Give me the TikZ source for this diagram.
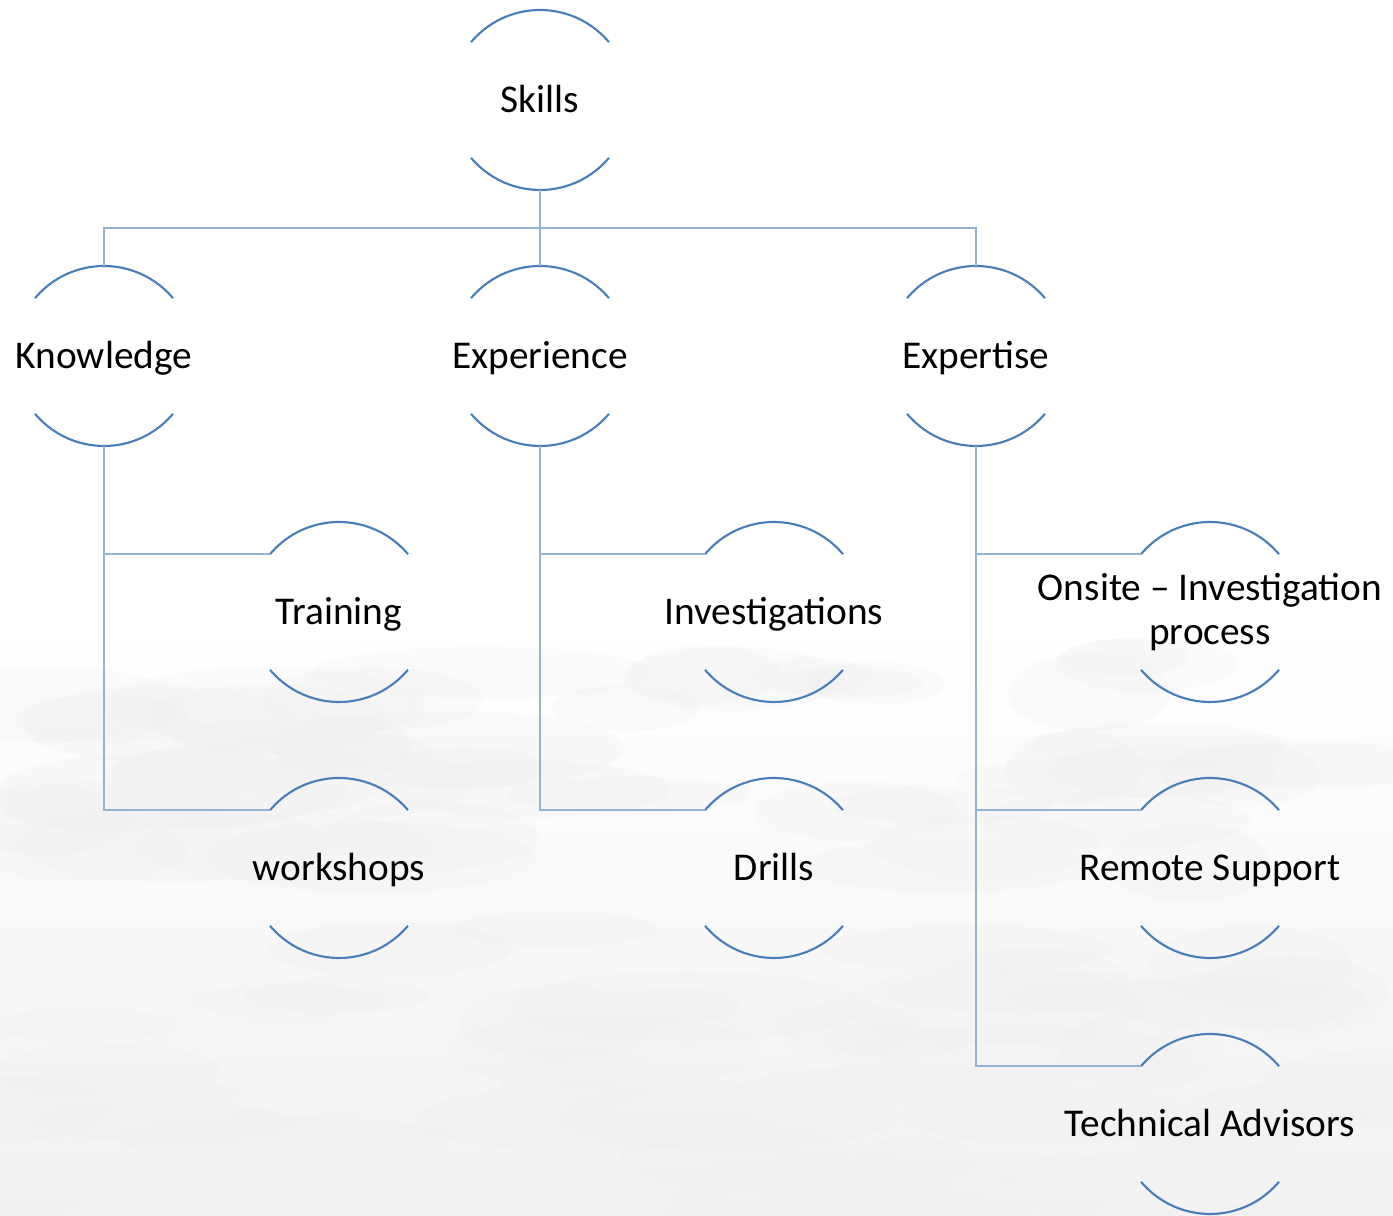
\documentclass[tikz,border=0pt]{standalone}
\usepackage{fontspec}
\setmainfont{Carlito}
\definecolor{arcblue}{HTML}{4A7EBB}
\definecolor{connblue}{HTML}{95B3D7}
\tikzset{
  arcst/.style={draw=arcblue, line width=1.6pt},
  conn/.style={draw=connblue, line width=1.5pt},
  txt/.style={font=\fontsize{29.5}{33}\selectfont, align=center, inner sep=0pt, text=black, anchor=base}
}
\newcommand\bub[4]{%
  \coordinate (#1) at (#2,#3);
  \node[txt] (#1-n) at ([yshift=-9.75pt]#1) {#4};
  \coordinate (#1-tl) at ([shift={(140:67.5pt)}]#1);
  \coordinate (#1-tr) at ([shift={(40:67.5pt)}]#1);
  \coordinate (#1-t) at ([shift={(90:67.5pt)}]#1);
  \coordinate (#1-b) at ([shift={(270:67.5pt)}]#1);
  \coordinate (#1-bl) at ([shift={(220:67.5pt)}]#1);
  \draw[arcst] (#1-tr) arc[start angle=40,end angle=140,radius=67.5pt];
  \draw[arcst] (#1-bl) arc[start angle=220,end angle=320,radius=67.5pt];
}
\begin{document}
\begin{tikzpicture}[x=0.75pt,y=0.75pt]
\useasboundingbox (0,0) rectangle (1393,1216);
\fill[white] (0,0) rectangle (1393,1216);
\shade[top color=white, bottom color=gray!10] (0,0) rectangle (1393,600);
\pgfmathsetseed{7}
\begin{scope}[fill=gray!12, opacity=0.25]
  \foreach \i in {1,...,90}{
    \pgfmathsetmacro\cx{rnd*1393}
    \pgfmathsetmacro\cy{rnd*560}
    \pgfmathsetmacro\rx{60+rnd*120}
    \pgfmathsetmacro\ry{15+rnd*25}
    \fill (\cx,\cy) ellipse (\rx pt*0.75 and \ry pt*0.75);
  }
\end{scope}
\bub{S}{540}{1116}{Skills}
\bub{K}{104}{860}{Knowledge}
\bub{E}{540}{860}{Experience}
\bub{X}{976}{860}{Expertise}
\bub{T}{339}{604}{Training}
\bub{W}{339}{348}{workshops}
\bub{I}{774}{604}{Investigations}
\bub{D}{774}{348}{Drills}
\coordinate (O) at (1210,604);
\node[txt] (O-n) at (1210,571) {Onsite – Investigation\\process};
\coordinate (O-tl) at ([shift={(140:67.5pt)}]O);
\coordinate (O-tr) at ([shift={(40:67.5pt)}]O);
\coordinate (O-bl) at ([shift={(220:67.5pt)}]O);
\draw[arcst] (O-tr) arc[start angle=40,end angle=140,radius=67.5pt];
\draw[arcst] (O-bl) arc[start angle=220,end angle=320,radius=67.5pt];
\bub{R}{1210}{348}{Remote Support}
\bub{A}{1210}{92}{Technical Advisors}
\coordinate (hub) at (540,988);
\draw[conn] (S-b) -- (hub);
\draw[conn] (hub) -| (K-t);
\draw[conn] (hub) -- (E-t);
\draw[conn] (hub) -| (X-t);
\draw[conn] (K-b) |- (T-tl);
\draw[conn] (K-b) |- (W-tl);
\draw[conn] (E-b) |- (I-tl);
\draw[conn] (E-b) |- (D-tl);
\draw[conn] (X-b) |- (O-tl);
\draw[conn] (X-b) |- (R-tl);
\draw[conn] (X-b) |- (A-tl);
\end{tikzpicture}
\end{document}
